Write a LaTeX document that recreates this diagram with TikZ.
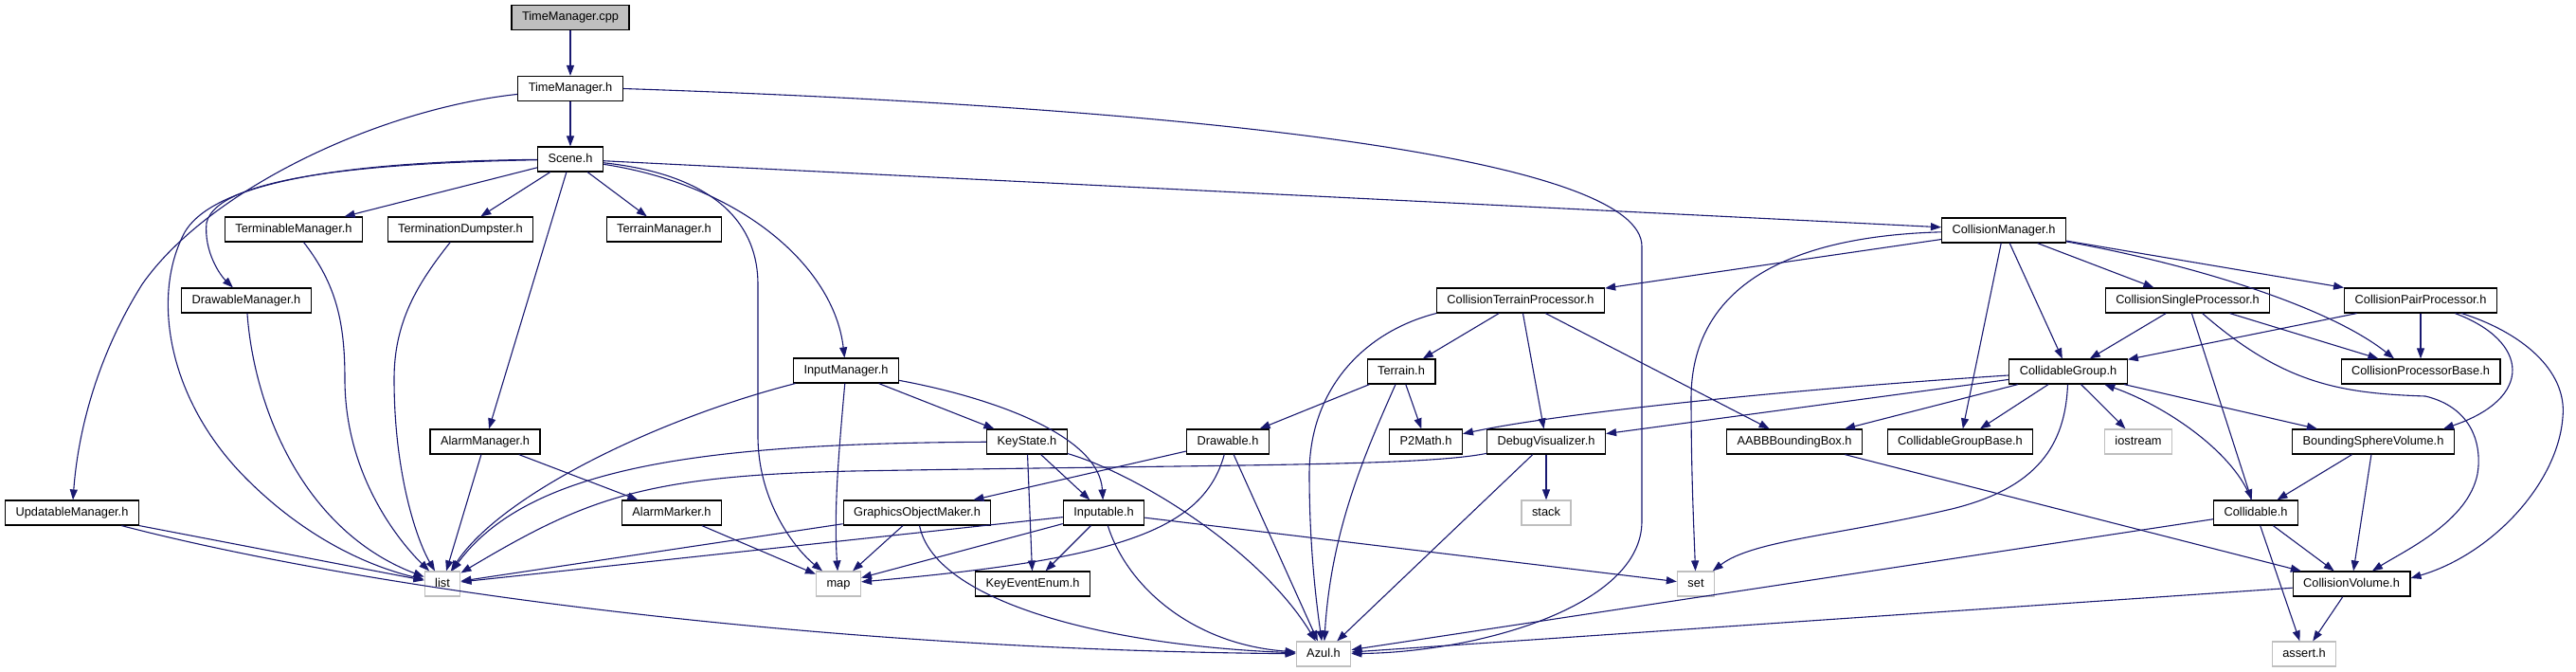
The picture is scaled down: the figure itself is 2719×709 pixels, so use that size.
\documentclass[tikz,border=0pt]{standalone}
\usepackage{fontspec}
\setmainfont{Liberation Sans}
\usetikzlibrary{arrows.meta}
\definecolor{dxblue}{RGB}{25,25,112}
\definecolor{dxgray}{RGB}{191,191,191}
\begin{document}
\begin{tikzpicture}[x=1pt,y=-1pt,
  every node/.style={font=\fontsize{12.8}{14}\selectfont},
  hnode/.style={rectangle,draw=black,line width=1.2pt,fill=white,minimum height=26pt,
    inner xsep=11pt,inner ysep=0pt,text height=9.3pt,text depth=2.7pt},
  srcnode/.style={hnode,fill=dxgray},
  sysnode/.style={hnode,draw=dxgray},
  inc/.style={-{Triangle[length=11pt,width=8pt]},draw=dxblue,line width=1.1pt}]
\useasboundingbox (0,0) rectangle (2719,709);
% left part: managers
\node[srcnode] (tmcpp) at (602,18.5) {TimeManager.cpp};
\node[hnode] (tmh) at (602,93.5) {TimeManager.h};
\node[hnode] (scene) at (602,168) {Scene.h};
\node[hnode] (termmgr) at (310,242) {TerminableManager.h};
\node[hnode] (dumpster) at (486,242) {TerminationDumpster.h};
\node[hnode] (terrmgr) at (701,242) {TerrainManager.h};
\node[hnode] (drawmgr) at (260,317) {DrawableManager.h};
\node[hnode] (inputmgr) at (893,391) {InputManager.h};
\node[hnode] (alarmmgr) at (512,466) {AlarmManager.h};
\node[hnode] (updmgr) at (76,541) {UpdatableManager.h};
\node[hnode] (alarmmk) at (709,541) {AlarmMarker.h};
\node[sysnode] (list) at (467,616) {list};
\node[sysnode] (map) at (885,616) {map};
% middle part: input, drawing, terrain
\node[hnode] (ctp) at (1605,317) {CollisionTerrainProcessor.h};
\node[hnode] (terrain) at (1479,392) {Terrain.h};
\node[hnode] (keystate) at (1084,466) {KeyState.h};
\node[hnode] (drawable) at (1296,466) {Drawable.h};
\node[hnode] (p2math) at (1505,466) {P2Math.h};
\node[hnode] (debugvis) at (1632,466) {DebugVisualizer.h};
\node[hnode] (gom) at (968,541) {GraphicsObjectMaker.h};
\node[hnode] (inputable) at (1165,541) {Inputable.h};
\node[sysnode] (stack) at (1632,541) {stack};
\node[hnode] (keyevent) at (1090,616) {KeyEventEnum.h};
\node[sysnode] (azul) at (1397,690) {Azul.h};
\node[sysnode] (set) at (1790,616) {set};
% right part: collision
\node[hnode] (collmgr) at (2115,243) {CollisionManager.h};
\node[hnode] (csp) at (2309,317) {CollisionSingleProcessor.h};
\node[hnode] (pairproc) at (2555,317) {CollisionPairProcessor.h};
\node[hnode] (cgroup) at (2183,392) {CollidableGroup.h};
\node[hnode] (cpb) at (2555,392) {CollisionProcessorBase.h};
\node[hnode] (aabb) at (1894,466) {AABBBoundingBox.h};
\node[hnode] (cgbase) at (2069,466) {CollidableGroupBase.h};
\node[sysnode] (iostream) at (2257,466) {iostream};
\node[hnode] (bsv) at (2505,466) {BoundingSphereVolume.h};
\node[hnode] (collidable) at (2381,541) {Collidable.h};
\node[hnode] (cvol) at (2482,616) {CollisionVolume.h};
\node[sysnode] (assert) at (2432,690) {assert.h};
% top chain
\draw[inc] (tmcpp) -- (tmh);
\draw[inc] (tmh) -- (scene);
\draw[inc] (tmh) .. controls (400,115) and (220,200) .. (150,300) .. controls (100,380) and (82,460) .. (updmgr);
\draw[inc] (tmh.east) .. controls (1300,115) and (1733,170) .. (1733,260) -- (1733,550) .. controls (1733,640) and (1560,688) .. (azul);
% scene
\draw[inc] (scene) -- (termmgr);
\draw[inc] (scene) -- (dumpster);
\draw[inc] (scene) -- (terrmgr);
\draw[inc] (scene) .. controls (400,172) and (230,185) .. (218,235) .. controls (215,265) and (232,290) .. (drawmgr);
\draw[inc] (scene) .. controls (400,170) and (230,185) .. (195,245) .. controls (160,310) and (175,420) .. (260,505) .. controls (330,575) and (400,600) .. (list);
\draw[inc] (scene) -- (alarmmgr);
\draw[inc] (scene) .. controls (760,185) and (800,240) .. (800,300) -- (800,460) .. controls (800,530) and (840,580) .. (map);
\draw[inc] (scene) .. controls (780,195) and (880,280) .. (inputmgr);
\draw[inc] (scene) -- (collmgr);
% managers
\draw[inc] (termmgr) .. controls (355,300) and (364,340) .. (364,400) .. controls (364,500) and (420,570) .. (list);
\draw[inc] (dumpster) .. controls (440,300) and (416,340) .. (416,400) .. controls (416,500) and (440,570) .. (list);
\draw[inc] (drawmgr) .. controls (268,430) and (320,560) .. (list);
\draw[inc] (updmgr) -- (list);
\draw[inc] (updmgr) .. controls (380,620) and (850,685) .. (azul);
\draw[inc] (alarmmgr) -- (list);
\draw[inc] (alarmmgr) -- (alarmmk);
\draw[inc] (alarmmk) -- (map);
% input
\draw[inc] (inputmgr) .. controls (700,440) and (530,520) .. (list);
\draw[inc] (inputmgr) .. controls (885,480) and (880,540) .. (map);
\draw[inc] (inputmgr) -- (keystate);
\draw[inc] (inputmgr) .. controls (1050,420) and (1160,460) .. (inputable);
\draw[inc] (keystate) .. controls (750,468) and (560,490) .. (list);
\draw[inc] (keystate) -- (inputable);
\draw[inc] (keystate) -- (keyevent);
\draw[inc] (keystate) .. controls (1200,500) and (1330,580) .. (azul);
\draw[inc] (inputable) -- (list);
\draw[inc] (inputable) -- (map);
\draw[inc] (inputable) -- (keyevent);
\draw[inc] (inputable) .. controls (1190,620) and (1260,680) .. (azul);
\draw[inc] (inputable) -- (set);
% drawing
\draw[inc] (gom) -- (list);
\draw[inc] (gom) -- (map);
\draw[inc] (gom) .. controls (985,630) and (1150,680) .. (azul);
\draw[inc] (drawable) -- (gom);
\draw[inc] (drawable) .. controls (1270,560) and (1180,590) .. (map);
\draw[inc] (drawable) -- (azul);
% terrain
\draw[inc] (terrain) -- (drawable);
\draw[inc] (terrain) -- (p2math);
\draw[inc] (terrain) .. controls (1440,480) and (1405,560) .. (azul);
\draw[inc] (ctp) -- (terrain);
\draw[inc] (ctp) -- (debugvis);
\draw[inc] (ctp) -- (aabb);
\draw[inc] (ctp.south west) .. controls (1440,350) and (1382,410) .. (1382,500) .. controls (1382,580) and (1390,640) .. (azul);
\draw[inc] (debugvis) -- (stack);
\draw[inc] (debugvis) -- (azul);
\draw[inc] (debugvis) .. controls (1500,492) and (1300,490) .. (900,497) .. controls (680,502) and (620,525) .. (list);
% collision manager
\draw[inc] (collmgr) -- (ctp);
\draw[inc] (collmgr) .. controls (1860,250) and (1785,320) .. (1785,420) .. controls (1785,500) and (1788,560) .. (set);
\draw[inc] (collmgr) -- (cgbase);
\draw[inc] (collmgr) -- (cgroup);
\draw[inc] (collmgr) -- (csp);
\draw[inc] (collmgr) -- (pairproc);
\draw[inc] (collmgr) .. controls (2320,280) and (2460,325) .. ([xshift=-28pt]cpb.north);
\draw[inc] (csp) -- (cgroup);
\draw[inc] (csp) -- (cpb);
\draw[inc] (csp) -- (collidable);
\draw[inc] (csp) .. controls (2410,405) and (2470,415) .. (2560,418) .. controls (2610,430) and (2620,470) .. (2615,500) .. controls (2605,550) and (2540,580) .. (cvol);
\draw[inc] (pairproc) -- (cgroup);
\draw[inc] (pairproc) -- (cpb);
\draw[inc] (pairproc) .. controls (2670,360) and (2675,420) .. ([xshift=-12pt]bsv.north east);
\draw[inc] (pairproc) .. controls (2660,350) and (2710,390) .. (2705,440) .. controls (2700,510) and (2630,585) .. ([yshift=6pt]cvol.east);
% collidable group
\draw[inc] (cgroup) .. controls (1900,410) and (1650,435) .. (p2math);
\draw[inc] (cgroup) -- (debugvis);
\draw[inc] (cgroup) -- (aabb);
\draw[inc] (cgroup) -- (cgbase);
\draw[inc] (cgroup) -- (iostream);
\draw[inc] (cgroup) -- (bsv);
\draw[inc] (cgroup) .. controls (2180,470) and (2150,515) .. (2060,537) .. controls (1940,565) and (1850,570) .. (set);
\draw[inc] (collidable) .. controls (2360,480) and (2290,430) .. (cgroup);
\draw[inc] (collidable) -- (cvol);
\draw[inc] (collidable) -- (assert);
\draw[inc] (collidable) -- (azul);
\draw[inc] (bsv) -- (collidable);
\draw[inc] (bsv) -- (cvol);
\draw[inc] (aabb) -- (cvol);
\draw[inc] (cvol) -- (assert);
\draw[inc] (cvol) -- (azul);
\end{tikzpicture}
\end{document}
